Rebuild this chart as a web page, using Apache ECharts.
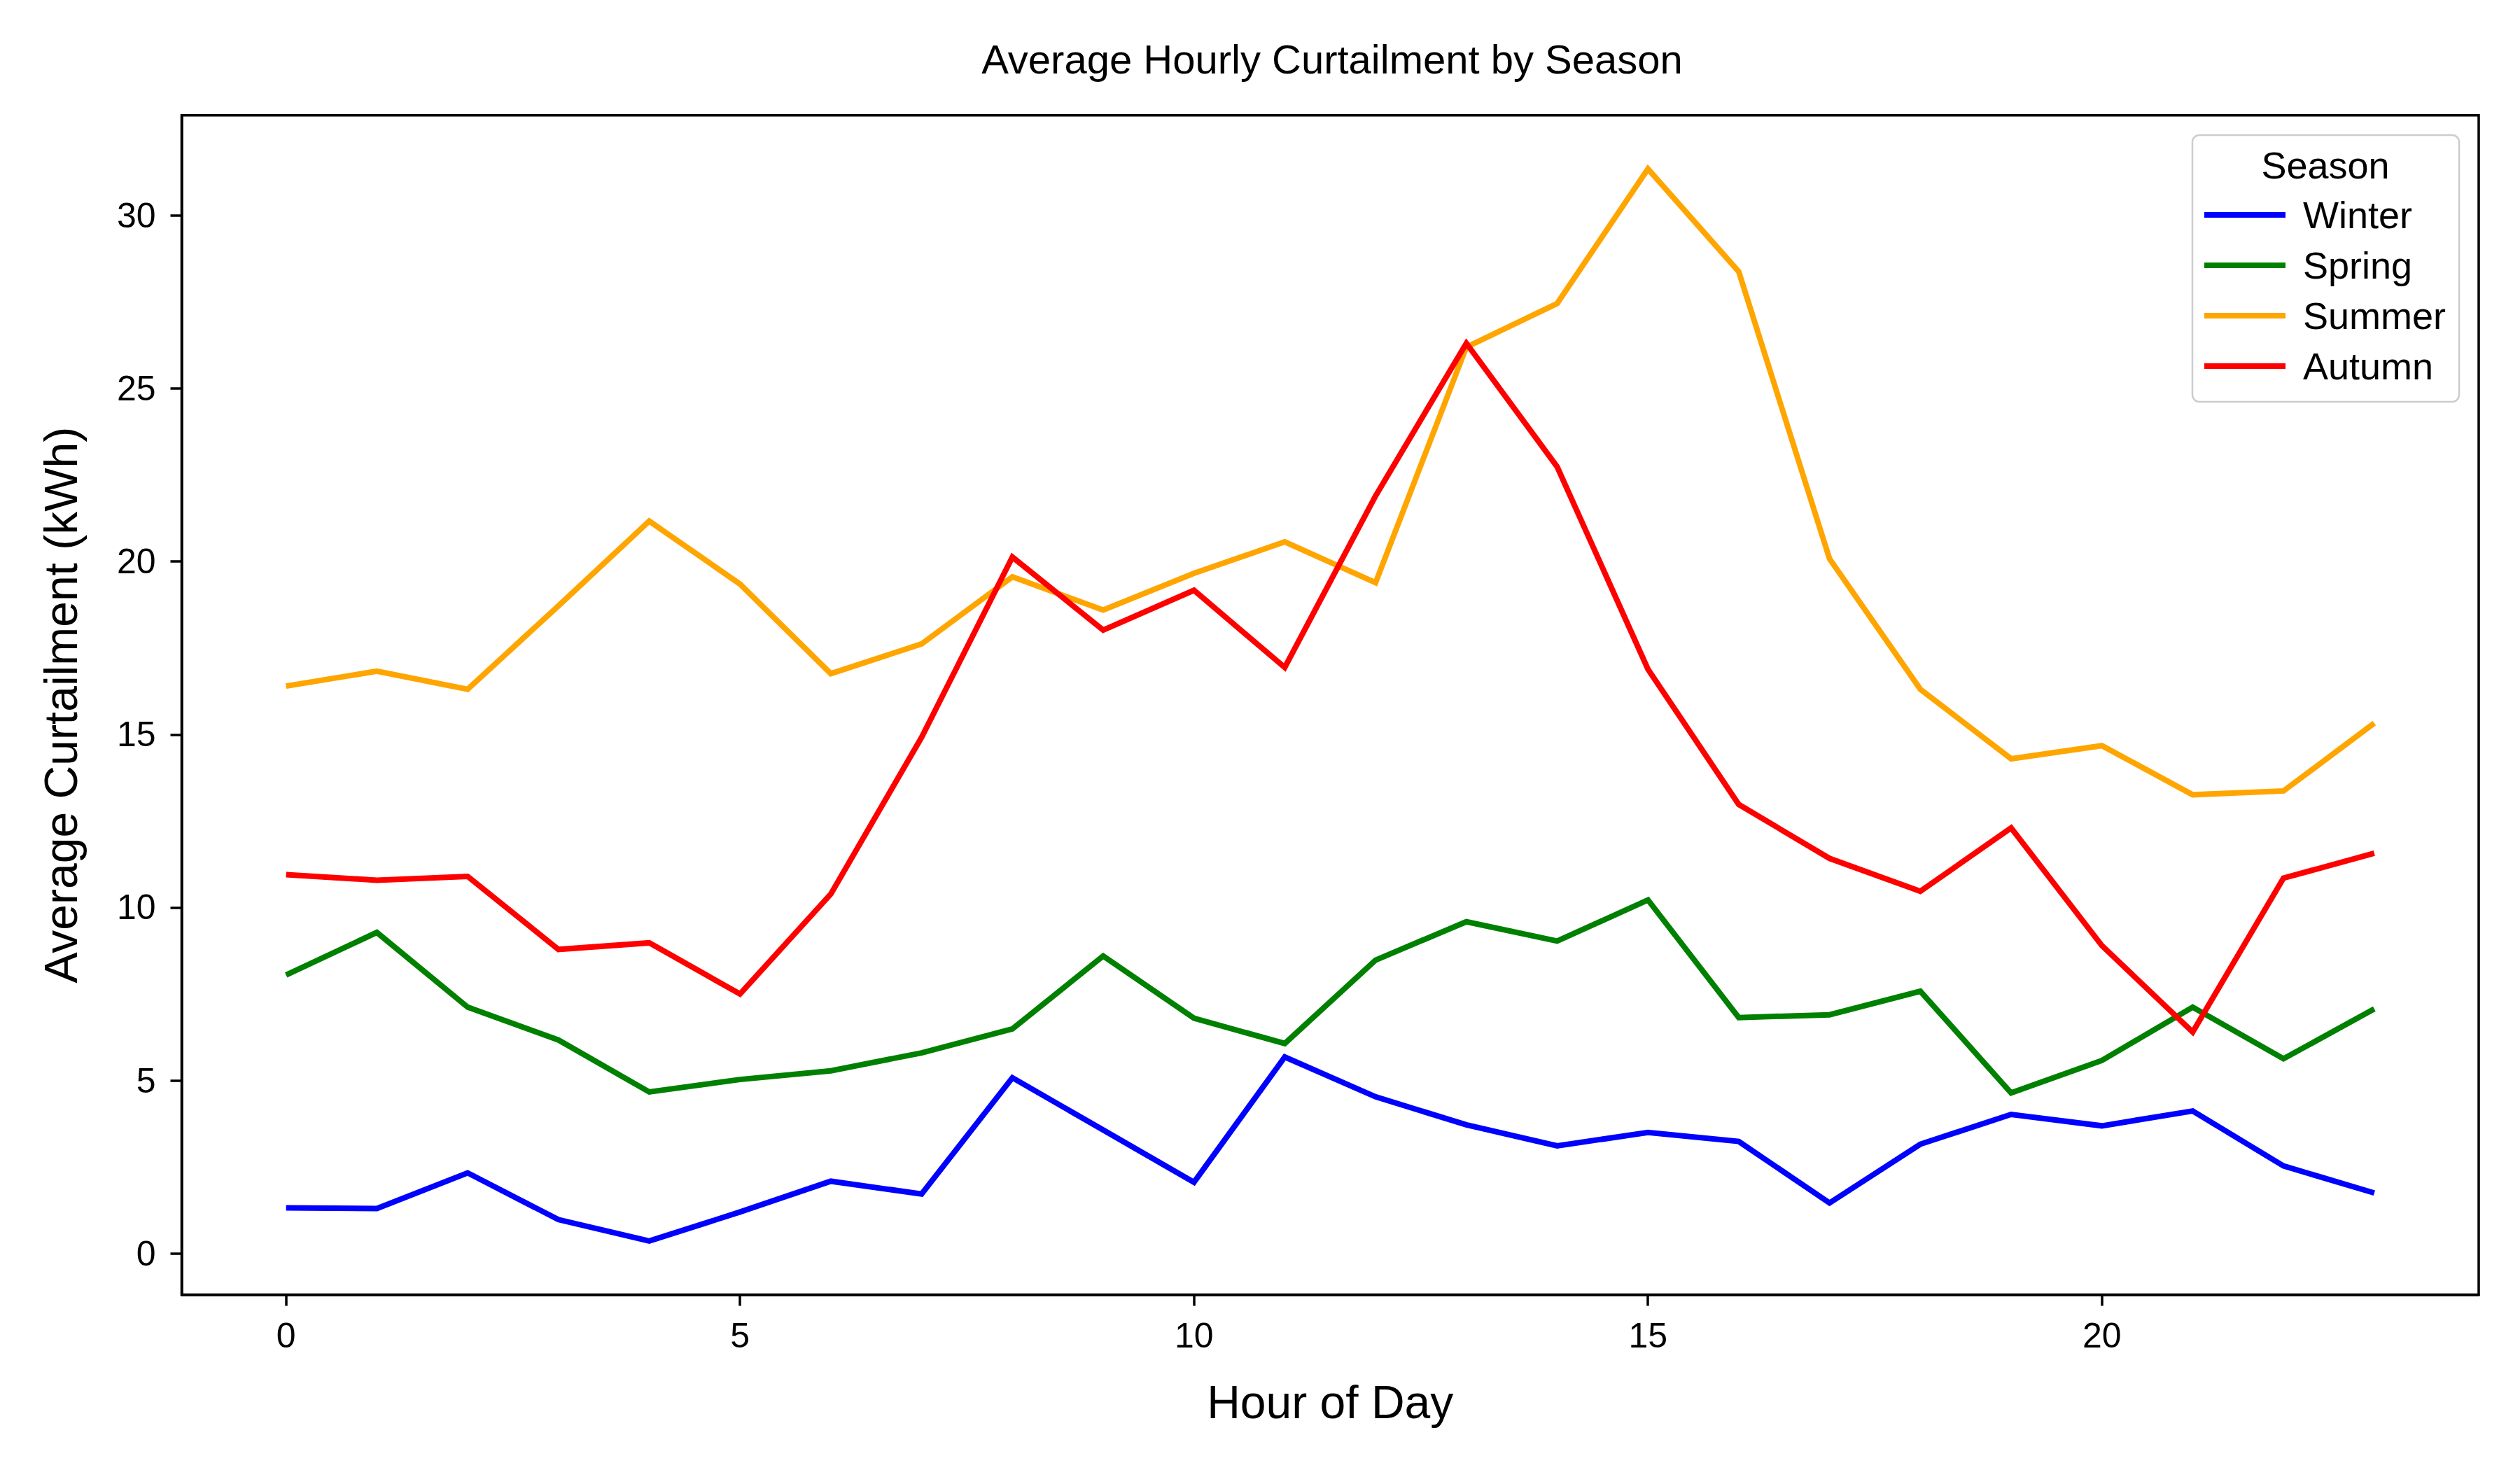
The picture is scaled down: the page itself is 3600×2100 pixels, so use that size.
<!DOCTYPE html>
<html>
<head>
<meta charset="utf-8">
<title>Average Hourly Curtailment by Season</title>
<script src="https://cdn.jsdelivr.net/npm/echarts@6/dist/echarts.min.js"></script>
<style>
  html, body { margin: 0; padding: 0; background: #fff; }
  #chart { width: 3600px; height: 2100px; }
</style>
</head>
<body>
<div id="chart"></div>
<script>
// values (kWh, hour 0..23)
const hours = [0, 1, 2, 3, 4, 5, 6, 7, 8, 9, 10, 11, 12, 13, 14, 15, 16, 17, 18, 19, 20, 21, 22, 23];
const winter = [1.32, 1.30, 2.33, 0.98, 0.36, 1.20, 2.09, 1.72, 5.08, 3.57, 2.06, 5.68, 4.53, 3.72, 3.11, 3.50, 3.24, 1.46, 3.16, 4.02, 3.69, 4.12, 2.53, 1.75];
const spring = [8.05, 9.28, 7.12, 6.17, 4.67, 5.03, 5.28, 5.80, 6.49, 8.60, 6.80, 6.07, 8.48, 9.59, 9.03, 10.22, 6.82, 6.90, 7.58, 4.64, 5.58, 7.12, 5.63, 7.07];
const summer = [16.40, 16.83, 16.31, 18.72, 21.17, 19.35, 16.76, 17.62, 19.56, 18.60, 19.66, 20.57, 19.39, 26.20, 27.46, 31.35, 28.38, 20.08, 16.31, 14.30, 14.68, 13.26, 13.37, 15.33];
const autumn = [10.95, 10.79, 10.90, 8.79, 8.98, 7.50, 10.39, 14.92, 20.13, 18.02, 19.17, 16.94, 21.90, 26.31, 22.74, 16.89, 12.98, 11.42, 10.47, 12.30, 8.90, 6.40, 10.85, 11.57];

const seasons = ['Winter', 'Spring', 'Summer', 'Autumn'];
const seasonValues = [winter, spring, summer, autumn];
const seasonColors = ['#0000ff', '#008000', '#ffa500', '#ff0000'];

const xTicks = [0, 5, 10, 15, 20];
const yTicks = [0, 5, 10, 15, 20, 25, 30];

// matplotlib-style 5% margins around the data
function padded(vals) {
  const lo = Math.min(...vals), hi = Math.max(...vals);
  const pad = (hi - lo) * 0.05;
  return [lo - pad, hi + pad];
}
const [xMin, xMax] = padded(hours);
const [yMin, yMax] = padded([].concat(...seasonValues));

const FONT = 'Liberation Sans';

const chart = echarts.init(document.getElementById('chart'), null, { renderer: 'svg' });

const option = {
  backgroundColor: '#ffffff',
  animation: false,
  textStyle: { fontFamily: FONT, color: '#000' },
  title: [
    {
      text: 'Average Hourly Curtailment by Season',
      left: 1903,
      top: 55,
      textAlign: 'center',
      padding: 0,
      textStyle: { fontFamily: FONT, fontSize: 58, fontWeight: 'normal', color: '#000' }
    },
    {
      text: 'Season',
      left: 3322,
      top: 209,
      textAlign: 'center',
      padding: 0,
      z: 10,
      textStyle: { fontFamily: FONT, fontSize: 54, fontWeight: 'normal', color: '#000' }
    }
  ],
  legend: {
    data: seasons,
    orient: 'vertical',
    left: 3132,
    top: 193,
    padding: [87, 19, 24, 17],
    itemGap: 18,
    icon: 'rect',
    itemWidth: 116,
    itemHeight: 8,
    borderColor: '#cccccc',
    borderWidth: 2.5,
    borderRadius: 10,
    backgroundColor: 'rgba(255,255,255,0.8)',
    textStyle: { fontFamily: FONT, fontSize: 54, color: '#000', padding: [0, 0, 0, 20] }
  },
  grid: {
    left: 259.5,
    right: 59,
    top: 164.7,
    bottom: 250.5,
    show: true,
    borderColor: '#000',
    borderWidth: 3.5,
    backgroundColor: 'transparent'
  },
  xAxis: {
    type: 'value',
    min: xMin,
    max: xMax,
    name: 'Hour of Day',
    nameLocation: 'middle',
    nameGap: 120,
    nameTextStyle: { fontFamily: FONT, fontSize: 66, color: '#000' },
    axisLine: { show: true, onZero: false, lineStyle: { color: '#000', width: 3.5 } },
    axisTick: { show: true, customValues: xTicks, length: 16, lineStyle: { color: '#000', width: 3.5 } },
    axisLabel: { customValues: xTicks, margin: 33, fontFamily: FONT, fontSize: 50, color: '#000' },
    splitLine: { show: false }
  },
  yAxis: {
    type: 'value',
    min: yMin,
    max: yMax,
    name: 'Average Curtailment (kWh)',
    nameLocation: 'middle',
    nameGap: 140,
    nameTextStyle: { fontFamily: FONT, fontSize: 66, color: '#000' },
    axisLine: { show: true, onZero: false, lineStyle: { color: '#000', width: 3.5 } },
    axisTick: { show: true, customValues: yTicks, length: 16, lineStyle: { color: '#000', width: 3.5 } },
    axisLabel: { customValues: yTicks, margin: 37, fontFamily: FONT, fontSize: 50, color: '#000' },
    splitLine: { show: false }
  },
  series: seasons.map((name, i) => ({
    name: name,
    type: 'line',
    data: hours.map((h, j) => [h, seasonValues[i][j]]),
    symbol: 'none',
    showSymbol: false,
    color: seasonColors[i],
    itemStyle: { color: seasonColors[i] },
    lineStyle: { color: seasonColors[i], width: 8, join: 'miter' },
    emphasis: { disabled: true }
  }))
};

chart.setOption(option);
</script>
</body>
</html>
